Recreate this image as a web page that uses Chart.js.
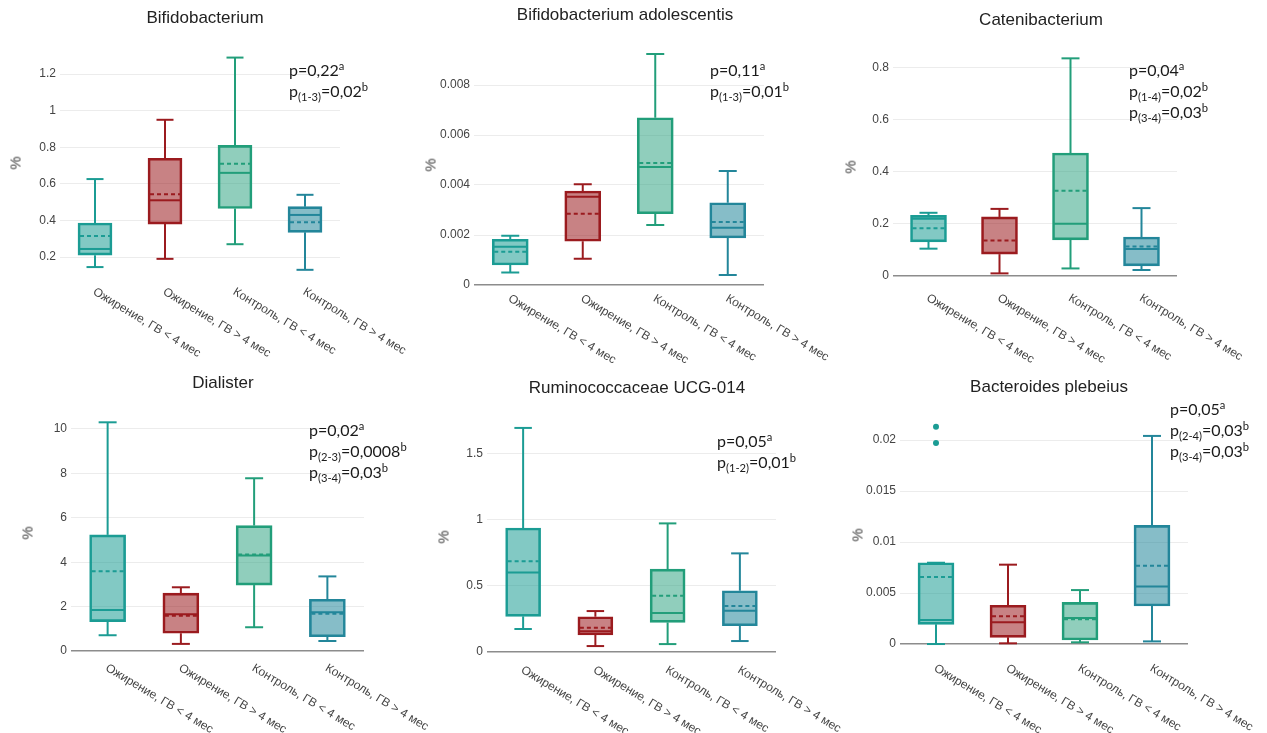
<!DOCTYPE html>
<html>
<head>
<meta charset="utf-8">
<script src="https://cdn.jsdelivr.net/npm/chart.js@4"></script>
<style>
  html, body { margin: 0; padding: 0; background: #fff; }
  #page { position: relative; width: 1267px; height: 733px; overflow: hidden; }
  canvas { position: absolute; }
  .title { position: absolute; font: 17px "Liberation Sans", Arial, sans-serif; color: #222; transform: translate(-50%, -50%); white-space: nowrap; }
  .ylab { position: absolute; font: 15px "Liberation Sans", Arial, sans-serif; color: #444; transform: translate(-50%, -50%) rotate(-90deg); }
  .pval { position: absolute; font: 16px Lato, "Open Sans", sans-serif; color: #1a1a1a; line-height: 21px; white-space: nowrap; }
  .pval sub, .pval sup { font-size: 70%; line-height: 0; }
</style>
</head>
<body>
<div id="page"></div>
<script>
// группы и подписи
const groups = ['Ожирение, ГВ < 4 мес', 'Ожирение, ГВ > 4 мес', 'Контроль, ГВ < 4 мес', 'Контроль, ГВ > 4 мес'];
const titles = ['Bifidobacterium', 'Bifidobacterium adolescentis', 'Catenibacterium',
                'Dialister', 'Ruminococcaceae UCG-014', 'Bacteroides plebeius'];

// статистики боксов, одна строка на панель
const whiskerLow = [
    [0.145, 0.19, 0.27, 0.13],
    [0.0005, 0.00105, 0.0024, 0.0004],
    [0.104, 0.009, 0.028, 0.022],
    [0.71, 0.32, 1.07, 0.45],
    [0.172, 0.043, 0.058, 0.081],
    [0.0, 0.00007, 0.00017, 0.00026]
];
const quart1 = [
    [0.21, 0.38, 0.465, 0.335],
    [0.0008, 0.00175, 0.00285, 0.00188],
    [0.13, 0.083, 0.138, 0.038],
    [1.32, 0.8, 2.97, 0.64],
    [0.268, 0.127, 0.222, 0.197],
    [0.00193, 0.00066, 0.0004, 0.00373]
];
const medians = [
    [0.244, 0.51, 0.66, 0.43],
    [0.00153, 0.00353, 0.00472, 0.00229],
    [0.219, 0.087, 0.2, 0.103],
    [1.85, 1.65, 4.3, 1.74],
    [0.6, 0.155, 0.293, 0.31],
    [0.00235, 0.00213, 0.00255, 0.00565]
];
const means = [
    [0.315, 0.543, 0.71, 0.39],
    [0.00133, 0.00285, 0.00488, 0.00252],
    [0.183, 0.135, 0.327, 0.112],
    [3.59, 1.59, 4.35, 1.68],
    [0.685, 0.182, 0.424, 0.346],
    [0.00657, 0.00272, 0.00242, 0.00768]
];
const quart3 = [
    [0.386, 0.74, 0.81, 0.475],
    [0.00183, 0.00376, 0.00669, 0.00329],
    [0.232, 0.226, 0.472, 0.149],
    [5.23, 2.61, 5.65, 2.33],
    [0.937, 0.265, 0.626, 0.462],
    [0.00797, 0.0038, 0.00408, 0.01163]
];
const whiskerHigh = [
    [0.626, 0.95, 1.29, 0.54],
    [0.00197, 0.00403, 0.00924, 0.00456],
    [0.242, 0.257, 0.836, 0.26],
    [10.3, 2.87, 7.78, 3.36],
    [1.695, 0.308, 0.972, 0.745],
    [0.00797, 0.00778, 0.00529, 0.0204]
];
// выбросы: [индекс группы, значение]
const outliers = [[], [], [], [], [], [[0, 0.0213], [0, 0.0197]]];

// оси
const yTicks = [
    [0.2, 0.4, 0.6, 0.8, 1, 1.2],
    [0, 0.002, 0.004, 0.006, 0.008],
    [0, 0.2, 0.4, 0.6, 0.8],
    [0, 2, 4, 6, 8, 10],
    [0, 0.5, 1, 1.5],
    [0, 0.005, 0.01, 0.015, 0.02]
];
const yMin = [0.07, -0.0001, -0.043, -0.27, -0.055, -0.0013];
const yMax = [1.35, 0.0097, 0.88, 10.8, 1.78, 0.0225];

// p-значения: [индекс, значение, метка]
const pValues = [
    [['', '0,22', 'a'], ['(1-3)', '0,02', 'b']],
    [['', '0,11', 'a'], ['(1-3)', '0,01', 'b']],
    [['', '0,04', 'a'], ['(1-4)', '0,02', 'b'], ['(3-4)', '0,03', 'b']],
    [['', '0,02', 'a'], ['(2-3)', '0,0008', 'b'], ['(3-4)', '0,03', 'b']],
    [['', '0,05', 'a'], ['(1-2)', '0,01', 'b']],
    [['', '0,05', 'a'], ['(2-4)', '0,03', 'b'], ['(3-4)', '0,03', 'b']]
];

const strokes = ['#1b9c94', '#9b1b1f', '#229e7a', '#23869a'];
const fills = ['rgba(27,156,148,0.55)', 'rgba(155,27,31,0.55)', 'rgba(34,158,122,0.5)', 'rgba(35,134,154,0.55)'];

// положение панелей на странице
const frames = [
    {left: 0,   top: 0,   w: 440, h: 365, plotL: 60,  plotR: 340,  plotT: 46.6,  plotB: 280.8, tx: 205,  ty: 18,  yx: 15,  yy: 163, px: 289,  py: 59,  bw: 34},
    {left: 420, top: 0,   w: 440, h: 365, plotL: 474, plotR: 764,  plotT: 42.5,  plotB: 287.5, tx: 625,  ty: 15,  yx: 430, yy: 165, px: 710,  py: 59,  bw: 36},
    {left: 840, top: 0,   w: 427, h: 365, plotL: 893, plotR: 1177, plotT: 46.9,  plotB: 286.9, tx: 1041, ty: 20,  yx: 850, yy: 167, px: 1129, py: 58.5, bw: 36},
    {left: 0,   top: 370, w: 440, h: 363, plotL: 71,  plotR: 364,  plotT: 411.2, plotB: 657,   tx: 223,  ty: 383, yx: 27,  yy: 533, px: 309,  py: 419, bw: 36},
    {left: 420, top: 370, w: 440, h: 363, plotL: 487, plotR: 776,  plotT: 416.7, plotB: 659,   tx: 637,  ty: 388, yx: 443, yy: 537, px: 717,  py: 430, bw: 35},
    {left: 840, top: 370, w: 427, h: 363, plotL: 900, plotR: 1188, plotT: 414.5, plotB: 657.3, tx: 1049, ty: 387, yx: 857, yy: 535, px: 1170, py: 398, bw: 36}
];

// усы, медиана, среднее, выбросы и подписи категорий
const boxExtras = {
    id: 'boxExtras',
    afterDatasetsDraw(chart, args, opts) {
        const k = opts.k;
        const half = opts.bw / 2;
        const {ctx, scales: {x, y}} = chart;
        const seg = (x1, y1, x2, y2) => { ctx.beginPath(); ctx.moveTo(x1, y1); ctx.lineTo(x2, y2); ctx.stroke(); };
        ctx.save();
        ctx.lineWidth = 2;
        groups.forEach((g, i) => {
            const cx = x.getPixelForValue(i);
            ctx.strokeStyle = strokes[i];
            ctx.setLineDash([]);
            const lo = y.getPixelForValue(whiskerLow[k][i]);
            const hi = y.getPixelForValue(whiskerHigh[k][i]);
            seg(cx, y.getPixelForValue(quart1[k][i]), cx, lo);
            seg(cx, y.getPixelForValue(quart3[k][i]), cx, hi);
            seg(cx - half / 2, lo, cx + half / 2, lo);
            seg(cx - half / 2, hi, cx + half / 2, hi);
            const md = y.getPixelForValue(medians[k][i]);
            seg(cx - half + 1, md, cx + half - 1, md);
            ctx.setLineDash([4, 3]);
            const mn = y.getPixelForValue(means[k][i]);
            seg(cx - half + 2, mn, cx + half - 2, mn);
        });
        ctx.setLineDash([]);
        outliers[k].forEach(([i, v]) => {
            ctx.fillStyle = strokes[i];
            ctx.beginPath();
            ctx.arc(x.getPixelForValue(i), y.getPixelForValue(v), 3, 0, Math.PI * 2);
            ctx.fill();
        });
        ctx.fillStyle = '#444';
        ctx.font = '12px "Liberation Sans", Arial, sans-serif';
        ctx.textAlign = 'left';
        ctx.textBaseline = 'top';
        groups.forEach((g, i) => {
            ctx.save();
            ctx.translate(x.getPixelForValue(i) + 2, chart.chartArea.bottom + 5);
            ctx.rotate(31 * Math.PI / 180);
            ctx.fillText(g, 0, 0);
            ctx.restore();
        });
        ctx.restore();
    }
};

const page = document.getElementById('page');

frames.forEach((f, k) => {
    const canvas = document.createElement('canvas');
    canvas.width = f.w;
    canvas.height = f.h;
    canvas.style.left = f.left + 'px';
    canvas.style.top = f.top + 'px';
    page.appendChild(canvas);

    new Chart(canvas.getContext('2d'), {
        type: 'bar',
        data: {
            labels: groups,
            datasets: [{
                data: quart1[k].map((v, i) => [v, quart3[k][i]]),
                backgroundColor: fills,
                borderColor: strokes,
                borderWidth: 2,
                borderSkipped: false,
                barThickness: f.bw
            }]
        },
        options: {
            responsive: false,
            animation: false,
            layout: {
                padding: {
                    left: 0,
                    top: f.plotT - f.top,
                    bottom: f.top + f.h - f.plotB,
                    right: f.left + f.w - f.plotR
                }
            },
            scales: {
                x: { display: false },
                y: {
                    min: yMin[k],
                    max: yMax[k],
                    afterFit: s => { s.width = f.plotL - f.left; },
                    afterBuildTicks: s => { s.ticks = yTicks[k].map(v => ({value: v})); },
                    border: { display: false },
                    grid: {
                        drawTicks: false,
                        color: c => c.tick && c.tick.value === 0 ? '#8c8c8c' : '#ececec',
                        lineWidth: c => c.tick && c.tick.value === 0 ? 1.6 : 1
                    },
                    ticks: {
                        padding: 4,
                        color: '#444',
                        font: { family: '"Liberation Sans", Arial, sans-serif', size: 12 },
                        callback: v => String(v)
                    }
                }
            },
            plugins: {
                legend: { display: false },
                tooltip: { enabled: false },
                boxExtras: { k: k, bw: f.bw }
            }
        },
        plugins: [boxExtras]
    });

    const t = document.createElement('div');
    t.className = 'title';
    t.style.left = f.tx + 'px';
    t.style.top = f.ty + 'px';
    t.textContent = titles[k];
    page.appendChild(t);

    const yl = document.createElement('div');
    yl.className = 'ylab';
    yl.style.left = f.yx + 'px';
    yl.style.top = f.yy + 'px';
    yl.textContent = '%';
    page.appendChild(yl);

    const p = document.createElement('div');
    p.className = 'pval';
    p.style.left = f.px + 'px';
    p.style.top = f.py + 'px';
    p.innerHTML = pValues[k].map(([sub, val, sup]) =>
        `p${sub ? '<sub>' + sub + '</sub>' : ''}=${val}<sup>${sup}</sup>`).join('<br>');
    page.appendChild(p);
});
</script>
</body>
</html>
